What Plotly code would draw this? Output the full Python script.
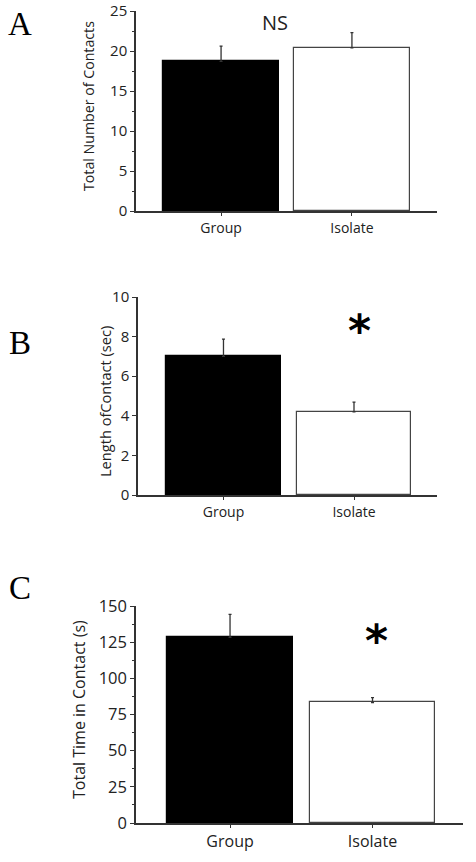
import plotly.graph_objects as go

# Data
groups = ['Group', 'Isolate']

contacts = [18.7, 20.4]
contacts_err = [1.9, 1.9]

length = [7.0, 4.2]
length_err = [0.87, 0.49]

total_time = [128.4, 83.3]
total_time_err = [15.8, 3.4]

W, H = 476, 862


def px_x(p):
    return p / W


def px_y(p):
    return (H - p) / H


fig = go.Figure()

panels = [
    # values, errors, suffix, pixel box (x0, x1, ybottom, ytop), y range, dtick, minor,
    # x range, bar width, y title, title center (x, y), title size, y tick size, x tick size
    (contacts, contacts_err, '', (136, 437, 211, 11), [0, 25], 5, 2.5,
     [-0.65, 1.65], 0.885, 'Total Number of Contacts', (88, 106), 14.2, 15, 14),
    (length, length_err, '2', (138, 437, 495, 297), [0, 10], 2, None,
     [-0.655, 1.636], 0.88, 'Length ofContact (sec)', (105, 402), 14.6, 15, 14),
    (total_time, total_time_err, '3', (136, 463, 823, 606), [0, 150], 25, 12.5,
     [-0.66, 1.635], 0.88, 'Total Time in Contact (s)', (79, 710), 16, 16.5, 16),
]

axis_line = '#333333'
text_col = '#222222'

for (vals, errs, sfx, box, yr, dt, mdt, xr, bw, ytitle, tpos, tsize,
     ysize, xsize) in panels:
    fig.add_trace(go.Bar(
        x=groups, y=vals, width=bw,
        marker=dict(color=['black', 'white'],
                    line=dict(color=['black', '#444444'], width=1.2)),
        error_y=dict(type='data', array=errs, arrayminus=[0, 0], symmetric=False,
                     color=axis_line, thickness=1.3, width=1.5),
        xaxis='x' + sfx, yaxis='y' + sfx, showlegend=False,
    ))
    x0, x1, yb, yt = box
    xa = dict(domain=[px_x(x0), px_x(x1)], range=xr, anchor='y' + sfx,
              showline=True, linecolor=axis_line, linewidth=1.5,
              ticks='outside', ticklen=3, tickcolor=axis_line,
              tickfont=dict(family='Open Sans', size=xsize, color=text_col),
              showgrid=False, zeroline=False, fixedrange=True,
              automargin=False, ticklabeloverflow='allow')
    ya = dict(domain=[px_y(yb), px_y(yt)], range=yr, anchor='x' + sfx,
              dtick=dt, tick0=0,
              showline=True, linecolor=axis_line, linewidth=1.5,
              ticks='outside', ticklen=4, tickcolor=axis_line,
              tickfont=dict(family='Open Sans', size=ysize, color=text_col),
              showgrid=False, zeroline=False, fixedrange=True,
              automargin=False, ticklabeloverflow='allow')
    if mdt:
        ya['minor'] = dict(dtick=mdt, ticks='outside', ticklen=2, tickcolor=axis_line)
    fig.layout['xaxis' + sfx] = xa
    fig.layout['yaxis' + sfx] = ya
    fig.add_annotation(text=ytitle, textangle=-90, x=px_x(tpos[0]), y=px_y(tpos[1]),
                       xref='paper', yref='paper', xanchor='center', yanchor='middle',
                       showarrow=False,
                       font=dict(family='Open Sans', size=tsize, color=text_col))

# Panel letters
for letter, lx, ly in [('A', 20, 24), ('B', 20, 343), ('C', 19.5, 588)]:
    fig.add_annotation(text=letter, x=px_x(lx), y=px_y(ly), xref='paper', yref='paper',
                       xanchor='center', yanchor='middle', showarrow=False,
                       font=dict(family='Liberation Serif', size=33, color='black'))

# Significance markers
fig.add_annotation(text='NS', x=0.41, y=23.6, xref='x', yref='y', showarrow=False,
                   font=dict(family='Open Sans', size=20, color=text_col))
fig.add_annotation(text='<b>*</b>', x=1.04, y=8.3, xref='x2', yref='y2', showarrow=False,
                   font=dict(family='DejaVu Sans', size=44, color='black'))
fig.add_annotation(text='<b>*</b>', x=1.03, y=126.5, xref='x3', yref='y3', showarrow=False,
                   font=dict(family='DejaVu Sans', size=44, color='black'))

fig.update_layout(width=W, height=H, margin=dict(l=0, r=0, t=0, b=0),
                  paper_bgcolor='white', plot_bgcolor='white', bargap=0)

# drop the browser's default 8px body margin so the figure sits at the page corner
fig.write_html('out.html', config={'displayModeBar': False},
               post_script="document.body.style.margin = '0';")
